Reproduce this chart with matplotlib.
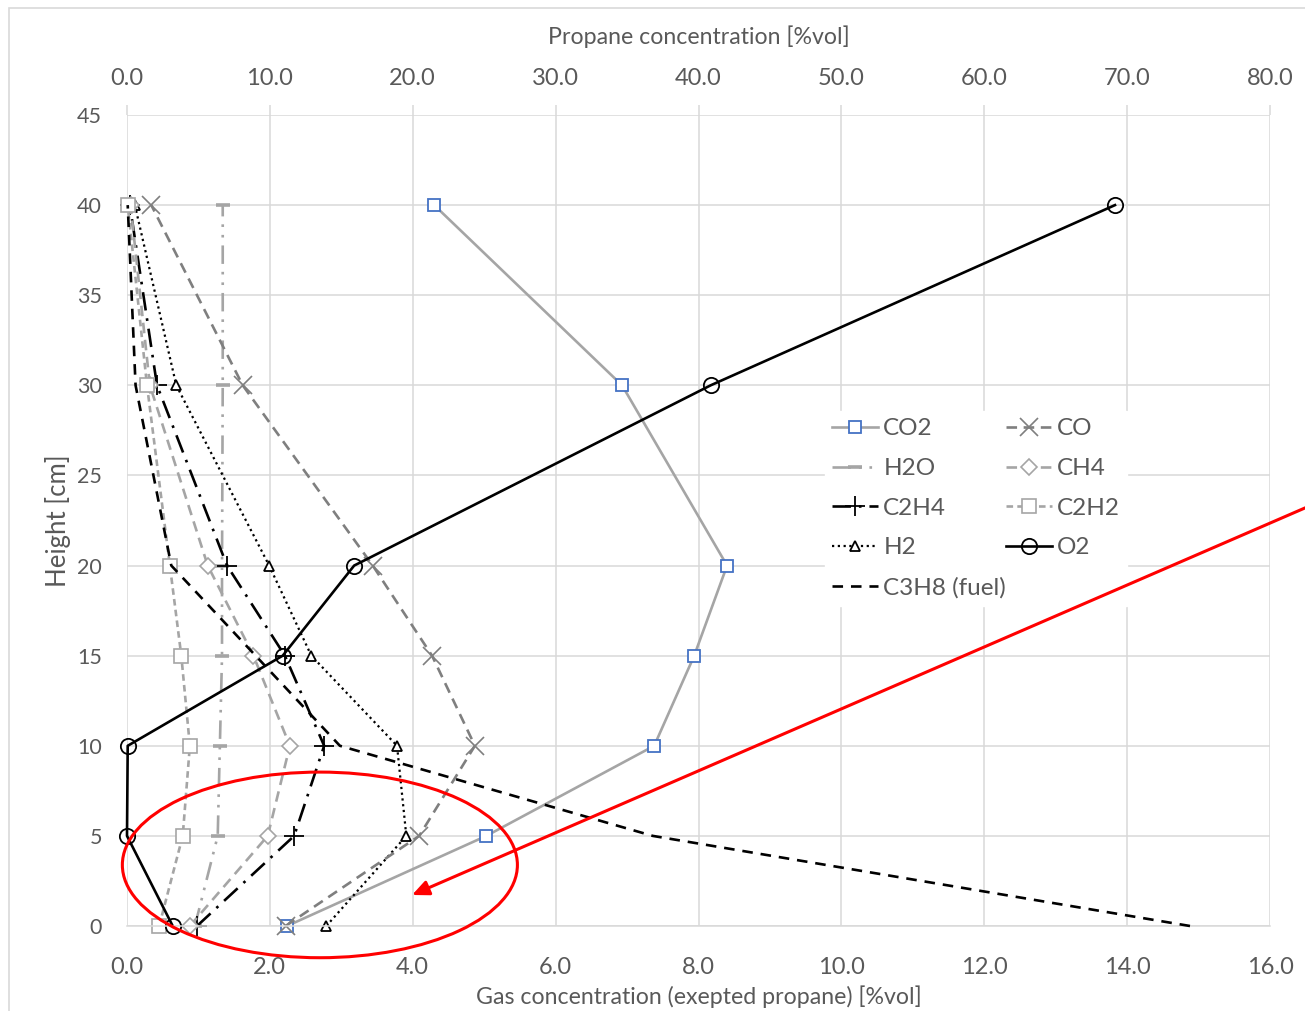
import matplotlib
matplotlib.use("Agg")
import matplotlib.pyplot as plt
from matplotlib.patches import Ellipse, Rectangle
from matplotlib.ticker import FormatStrFormatter

plt.rcParams["font.family"] = ["Lato", "DejaVu Sans"]

# ---------------------------------------------------------------------------
# Data: gas profiles over height in the bed
# ---------------------------------------------------------------------------

HEIGHT = [0, 5, 10, 15, 20, 30, 40]          # cm

# gas concentrations [%vol] (bottom axis)
CO2  = [2.24, 5.03, 7.38, 7.94, 8.40, 6.93, 4.30]
CO   = [2.22, 4.09, 4.87, 4.27, 3.44, 1.62, 0.34]
H2O  = [0.95, 1.27, 1.30, 1.33, 1.33, 1.34, 1.34]
CH4  = [0.88, 1.97, 2.28, 1.77, 1.13, 0.32, 0.05]
C2H4 = [0.98, 2.34, 2.76, 2.21, 1.40, 0.42, 0.04]
C2H2 = [0.45, 0.78, 0.88, 0.76, 0.60, 0.28, 0.01]
H2   = [2.79, 3.91, 3.78, 2.58, 1.99, 0.69, 0.11]
O2   = [0.64, 0.00, 0.01, 2.18, 3.18, 8.17, 13.83]

# propane (fuel) [%vol] (top axis)
C3H8 = [74.4, 36.8, 14.9, 9.0, 3.1, 0.6, 0.05]

GAS_TICKS     = [0, 2, 4, 6, 8, 10, 12, 14, 16]
PROPANE_TICKS = [0, 10, 20, 30, 40, 50, 60, 70, 80]
HEIGHT_TICKS  = [0, 5, 10, 15, 20, 25, 30, 35, 40, 45]

# ---------------------------------------------------------------------------
# Style
# ---------------------------------------------------------------------------

GRID  = "#d9d9d9"
TEXT  = "#595959"
GREY  = "#a5a5a5"
DGREY = "#7f7f7f"
BLUE  = "#4472c4"
LW = 1.9

fig = plt.figure(figsize=(13.05, 10.11), dpi=100)
ax = fig.add_axes([127 / 1305, 1 - 926 / 1011, 1143 / 1305, 811 / 1011])
ax2 = ax.twiny()

series = [
    ("CO2",  CO2,  dict(color=GREY, ls="-", marker="s", ms=8.5, mec=BLUE, mfc="white", mew=1.3)),
    ("H2O",  H2O,  dict(color=GREY, ls=(0, (7, 3, 1, 3, 1, 3)), marker="_", ms=10, mec=GREY, mew=2.6)),
    ("C2H4", C2H4, dict(color="black", ls=(0, (7, 3, 1, 3)), marker="+", ms=15, mec="black", mew=1.3)),
    ("H2",   H2,   dict(color="black", ls=(0, (1, 1.6)), marker="^", ms=6.5, mec="black", mfc="white", mew=1.3, lw=1.6)),
    ("CO",   CO,   dict(color=DGREY, ls=(0, (4, 2.5)), marker="x", ms=13, mec=DGREY, mew=1.2)),
    ("CH4",  CH4,  dict(color=GREY, ls=(0, (4, 2.5)), marker="D", ms=8, mec=GREY, mfc="white", mew=1.2)),
    ("C2H2", C2H2, dict(color=GREY, ls=(0, (2.5, 1.6)), marker="s", ms=10, mec=GREY, mfc="white", mew=1.2)),
    ("O2",   O2,   dict(color="black", ls="-", marker="o", ms=11, mec="black", mfc="none", mew=1.3)),
]

handles = {}
for name, values, style in series:
    style.setdefault("lw", LW)
    (h,) = ax.plot(values, HEIGHT, label=name, clip_on=False, **style)
    handles[name] = h

(h_fuel,) = ax2.plot(C3H8, HEIGHT, color="black", ls=(0, (4, 3)), lw=LW,
                     label="C3H8 (fuel)", clip_on=False)
handles["C3H8 (fuel)"] = h_fuel

# ---------------------------------------------------------------------------
# Axes
# ---------------------------------------------------------------------------

ax.set_xlim(0, 16)
ax.set_ylim(0, 45)
ax.set_xticks(GAS_TICKS)
ax.set_yticks(HEIGHT_TICKS)
ax.xaxis.set_major_formatter(FormatStrFormatter("%.1f"))
ax.grid(True, color=GRID, lw=1.1)
ax.set_axisbelow(True)
ax.tick_params(axis="x", length=0, pad=22.5, labelsize=17, labelcolor=TEXT)
ax.tick_params(axis="y", length=0, pad=18, labelsize=15.5, labelcolor=TEXT)

ax2.set_xlim(0, 80)
ax2.set_xticks(PROPANE_TICKS)
ax2.xaxis.set_major_formatter(FormatStrFormatter("%.1f"))
ax2.tick_params(axis="x", length=7, width=1.1, color=GRID, pad=11.5,
                labelsize=17, labelcolor=TEXT)

for a in (ax, ax2):
    for side, sp in a.spines.items():
        sp.set_visible(False)
ax.spines["bottom"].set_visible(True)
ax.spines["bottom"].set_color(GRID)
ax.spines["bottom"].set_linewidth(1.1)

ax.set_xlabel("Gas concentration (exepted propane) [%vol]", fontsize=16.7,
              color=TEXT, va="center")
ax.xaxis.set_label_coords(0.5, (926 - 997) / 811)
ax2.set_xlabel("Propane concentration [%vol]", fontsize=16.7, color=TEXT,
               va="center")
ax2.xaxis.set_label_coords(0.5, (926 - 37) / 811)
ax.set_ylabel("Height [cm]", fontsize=18.5, color=TEXT, va="center")
ax.yaxis.set_label_coords((58 - 127) / 1143, 0.5)

order = ["CO2", "H2O", "C2H4", "H2", "C3H8 (fuel)", "CO", "CH4", "C2H2", "O2"]
leg = ax2.legend([handles[k] for k in order], order, ncol=2,
                 loc="upper left", bbox_to_anchor=(0.6, 0.65),
                 frameon=True, fancybox=False, framealpha=1, edgecolor="white",
                 fontsize=17.5, labelspacing=0.77, handlelength=1.9,
                 handletextpad=0.2, columnspacing=0.0, borderpad=0.3)
for t in leg.get_texts():
    t.set_color(TEXT)
leg.set_zorder(5)

# highlighted region near the burner and the pointer to it
ax2.add_patch(Ellipse((2.70, 3.39), 5.53, 10.3, transform=ax.transData,
                      fill=False, ec="red", lw=2.2, zorder=10, clip_on=False))
ax2.annotate("", xy=(3.99, 1.72), xytext=(16.55, 23.3),
             xycoords=ax.transData, textcoords=ax.transData,
             annotation_clip=False, zorder=10,
             arrowprops=dict(arrowstyle="-|>,head_length=1.0,head_width=0.45",
                             color="red", lw=2.2, shrinkA=0, shrinkB=0))

# chart frame
fig.add_artist(Rectangle((9 / 1305, -0.1), 1.2, 1.1 - 8 / 1011,
                         transform=fig.transFigure, fill=False,
                         ec=GRID, lw=1.2))

fig.savefig("out.png", dpi=100)
